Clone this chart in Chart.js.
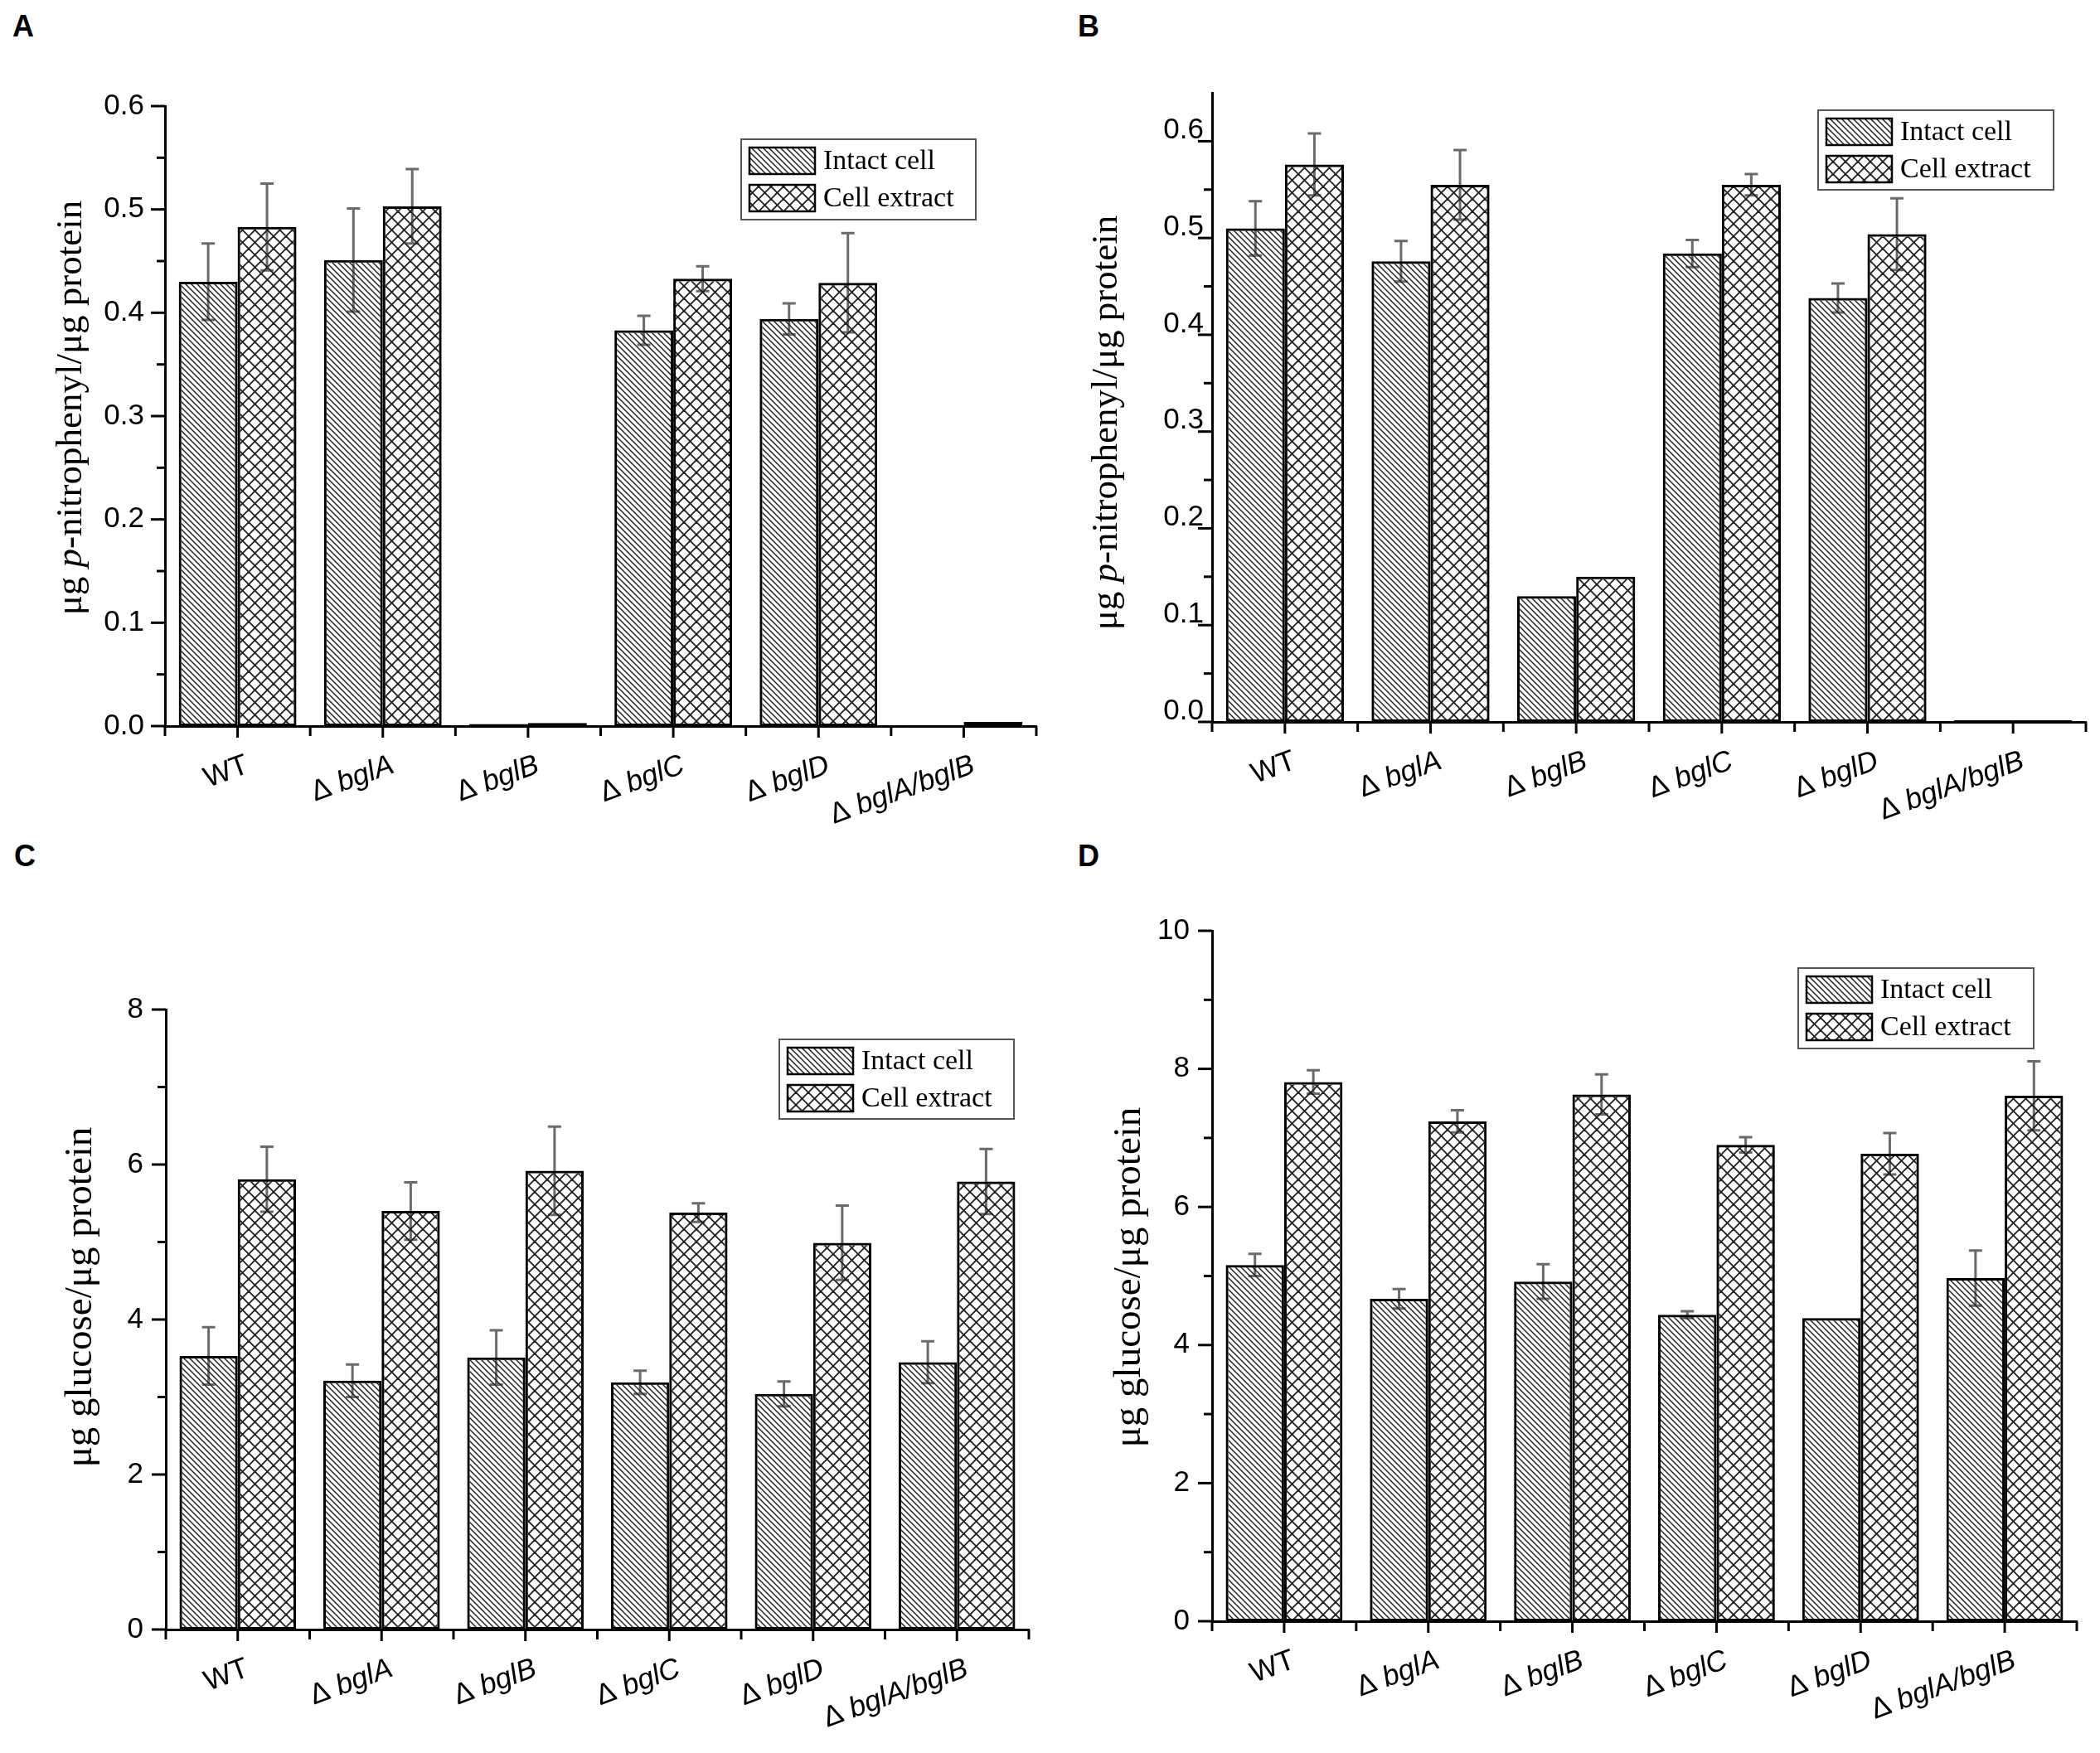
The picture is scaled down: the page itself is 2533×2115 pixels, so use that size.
<!DOCTYPE html>
<html><head><meta charset="utf-8">
<script src="https://cdn.jsdelivr.net/npm/chart.js@4.4.1/dist/chart.umd.min.js"></script>
<style>
html,body{margin:0;padding:0;background:#fff;}
#page{position:relative;width:2533px;height:2115px;background:#fff;overflow:hidden;}
canvas{position:absolute;}
.pl{position:absolute;font:bold 36px "Liberation Sans",Arial,sans-serif;color:#000;line-height:1;}
</style></head><body>
<div id="page">
<div class="pl" style="left:15px;top:14px">A</div>
<div class="pl" style="left:1300px;top:14px">B</div>
<div class="pl" style="left:17px;top:1015px">C</div>
<div class="pl" style="left:1300px;top:1015px">D</div>
<canvas id="cA" width="1266" height="1018" style="left:0px;top:0px"></canvas>
<canvas id="cB" width="1267" height="1018" style="left:1266px;top:0px"></canvas>
<canvas id="cC" width="1266" height="1097" style="left:0px;top:1018px"></canvas>
<canvas id="cD" width="1267" height="1097" style="left:1266px;top:1018px"></canvas>
</div>
<script>
// ---------------- DATA ----------------
const categories = ['WT', 'Δ bglA', 'Δ bglB', 'Δ bglC', 'Δ bglD', 'Δ bglA/bglB'];
const seriesNames = ['Intact cell', 'Cell extract'];

const aIntact     = [0.430, 0.451, 0.002, 0.383, 0.394, 0.001];
const aIntactErr  = [0.037, 0.050, 0,     0.014, 0.015, 0];
const aExtract    = [0.483, 0.503, 0.003, 0.433, 0.429, 0.004];
const aExtractErr = [0.042, 0.036, 0,     0.012, 0.048, 0];
const aTicks      = [0, 0.1, 0.2, 0.3, 0.4, 0.5, 0.6];

const bIntact     = [0.510, 0.476, 0.130, 0.484, 0.438, 0.002];
const bIntactErr  = [0.028, 0.021, 0,     0.014, 0.015, 0];
const bExtract    = [0.576, 0.555, 0.150, 0.555, 0.504, 0.002];
const bExtractErr = [0.032, 0.036, 0,     0.011, 0.037, 0];
const bTicks      = [0, 0.1, 0.2, 0.3, 0.4, 0.5, 0.6];

const cIntact     = [3.53, 3.21, 3.51, 3.19, 3.04, 3.45];
const cIntactErr  = [0.37, 0.21, 0.35, 0.15, 0.16, 0.27];
const cExtract    = [5.81, 5.40, 5.92, 5.38, 4.99, 5.78];
const cExtractErr = [0.42, 0.37, 0.57, 0.12, 0.48, 0.42];
const cTicks      = [0, 2, 4, 6, 8];

const dIntact     = [5.16, 4.67, 4.92, 4.44, 4.39, 4.97];
const dIntactErr  = [0.16, 0.14, 0.25, 0.05, 0,    0.40];
const dExtract    = [7.81, 7.24, 7.63, 6.90, 6.77, 7.61];
const dExtractErr = [0.17, 0.16, 0.29, 0.11, 0.30, 0.50];
const dTicks      = [0, 2, 4, 6, 8, 10];

const titleNitro   = [['μg ', false], ['p', true], ['-nitrophenyl/μg protein', false]];
const titleGlucose = [['μg glucose/μg protein', false]];

// ---------------- STYLE HELPERS ----------------
const SANS = '"Liberation Sans", Arial, sans-serif';
const SERIF = '"Liberation Serif", "Times New Roman", serif';

function makePattern(kind) {
  const p = kind === 'diag' ? 7 : 15;
  const c = document.createElement('canvas');
  c.width = p; c.height = p;
  const g = c.getContext('2d');
  g.strokeStyle = '#222';
  g.lineWidth = kind === 'diag' ? 1.5 : 1.9;
  const line = (x1, y1, x2, y2) => { g.beginPath(); g.moveTo(x1, y1); g.lineTo(x2, y2); g.stroke(); };
  // '\' direction lines
  line(-2, -2, p + 2, p + 2); line(-2, p - 2, 2, p + 2); line(p - 2, -2, p + 2, 2);
  if (kind === 'cross') {
    line(-2, p + 2, p + 2, -2); line(-2, 2, 2, -2); line(p - 2, p + 2, p + 2, p - 2);
  }
  return g.createPattern(c, 'repeat');
}

const decor = {
  id: 'decor',
  beforeDatasetsDraw(chart) {
    const ctx = chart.ctx, ys = chart.scales.y;
    ctx.save();
    ctx.strokeStyle = '#6a6a6a';
    ctx.lineWidth = 3;
    chart.data.datasets.forEach((ds, di) => {
      const meta = chart.getDatasetMeta(di);
      meta.data.forEach((bar, i) => {
        const e = ds.errors[i];
        if (!e) return;
        const v = ds.data[i];
        const yt = ys.getPixelForValue(v + e), yb = ys.getPixelForValue(v - e);
        const x = bar.x;
        ctx.beginPath();
        ctx.moveTo(x, yt); ctx.lineTo(x, yb);
        ctx.moveTo(x - 8, yt); ctx.lineTo(x + 8, yt);
        ctx.moveTo(x - 8, yb); ctx.lineTo(x + 8, yb);
        ctx.stroke();
      });
    });
    ctx.restore();
  },
  afterDraw(chart) {
    const o = chart.options.plugins.decor;
    const ctx = chart.ctx, xs = chart.scales.x, ys = chart.scales.y;
    const area = chart.chartArea;
    ctx.save();
    ctx.strokeStyle = '#000';
    ctx.lineWidth = 3;
    // y ticks (major + minor)
    const tv = o.ticks;
    for (let k = 0; k < tv.length; k++) {
      const y = ys.getPixelForValue(tv[k]);
      ctx.beginPath(); ctx.moveTo(area.left - 17, y); ctx.lineTo(area.left, y); ctx.stroke();
      if (k < tv.length - 1) {
        const ym = ys.getPixelForValue((tv[k] + tv[k + 1]) / 2);
        ctx.beginPath(); ctx.moveTo(area.left - 10, ym); ctx.lineTo(area.left, ym); ctx.stroke();
      }
    }
    // x ticks: boundaries + centers
    const n = categories.length;
    const cw = (xs.right - xs.left) / n;
    for (let k = 0; k <= n; k++) {
      const x = xs.left + k * cw;
      ctx.beginPath(); ctx.moveTo(x, area.bottom); ctx.lineTo(x, area.bottom + 12); ctx.stroke();
    }
    for (let i = 0; i < n; i++) {
      const x = xs.getPixelForValue(i);
      ctx.beginPath(); ctx.moveTo(x, area.bottom); ctx.lineTo(x, area.bottom + 14); ctx.stroke();
    }
    // x labels (rotated, italic gene names)
    ctx.fillStyle = '#000';
    ctx.textBaseline = 'top';
    const fUp = '35px ' + SANS, fIt = 'italic 35px ' + SANS;
    categories.forEach((lab, i) => {
      const parts = lab.startsWith('Δ ') ? [['Δ ', fUp], [lab.slice(2), fIt]] : [[lab, fUp]];
      let tot = 0;
      parts.forEach(p => { ctx.font = p[1]; tot += ctx.measureText(p[0]).width; });
      ctx.save();
      ctx.translate(xs.getPixelForValue(i) + o.labelDx, area.bottom + o.labelDy);
      ctx.rotate(-20 * Math.PI / 180);
      let x = -tot;
      ctx.textAlign = 'left';
      parts.forEach(p => { ctx.font = p[1]; ctx.fillText(p[0], x, 0); x += ctx.measureText(p[0]).width; });
      ctx.restore();
    });
    // y title
    {
      const fs = o.titleSize;
      let tot = 0;
      o.title.forEach(p => { ctx.font = (p[1] ? 'italic ' : '') + fs + 'px ' + SERIF; tot += ctx.measureText(p[0]).width; });
      ctx.save();
      ctx.translate(o.titleX, o.titleY);
      ctx.rotate(-Math.PI / 2);
      ctx.textBaseline = 'middle';
      ctx.textAlign = 'left';
      let x = -tot / 2;
      o.title.forEach(p => { ctx.font = (p[1] ? 'italic ' : '') + fs + 'px ' + SERIF; ctx.fillText(p[0], x, 0); x += ctx.measureText(p[0]).width; });
      ctx.restore();
    }
    // legend
    {
      const L = o.legend;
      ctx.lineWidth = 2;
      ctx.strokeStyle = '#555';
      ctx.fillStyle = '#fff';
      ctx.beginPath(); ctx.rect(L.x, L.y, L.w, L.h); ctx.fill(); ctx.stroke();
      chart.data.datasets.forEach((ds, di) => {
        const sy = L.y + 10 + di * 45;
        ctx.fillStyle = ds.backgroundColor;
        ctx.fillRect(L.x + 10, sy, 79, 32);
        ctx.lineWidth = 2.5; ctx.strokeStyle = '#000';
        ctx.strokeRect(L.x + 10, sy, 79, 32);
        ctx.fillStyle = '#000';
        ctx.font = '34px ' + SERIF;
        ctx.textBaseline = 'middle';
        ctx.textAlign = 'left';
        ctx.fillText(ds.label, L.x + 99, sy + 17);
      });
    }
    ctx.restore();
  }
};

function makeChart(p) {
  const ctx = document.getElementById(p.id).getContext('2d');
  const diag = makePattern('diag'), cross = makePattern('cross');
  return new Chart(ctx, {
    type: 'bar',
    data: {
      labels: categories,
      datasets: [
        { label: seriesNames[0], data: p.intact, errors: p.intactErr, backgroundColor: diag,
          borderColor: '#000', borderWidth: 3, borderSkipped: false, categoryPercentage: 0.81, barPercentage: 1 },
        { label: seriesNames[1], data: p.extract, errors: p.extractErr, backgroundColor: cross,
          borderColor: '#000', borderWidth: 3, borderSkipped: false, categoryPercentage: 0.81, barPercentage: 1 }
      ]
    },
    options: {
      responsive: false, animation: false, devicePixelRatio: 1,
      layout: { padding: { top: p.area.t, right: p.w - p.area.r, left: 0, bottom: 0 } },
      plugins: {
        legend: { display: false }, tooltip: { enabled: false },
        decor: { ticks: p.ticks, legend: p.legend, title: p.title, titleX: p.titleX, titleY: p.titleY,
                 titleSize: p.titleSize, labelDx: 6, labelDy: 30 }
      },
      scales: {
        x: { type: 'category', offset: true, grid: { display: false, drawTicks: false },
             border: { display: true, width: 3, color: '#000' }, ticks: { display: false },
             afterFit: s => { s.height = p.h - p.area.b; } },
        y: { type: 'linear', min: 0, max: p.max, grid: { display: false, drawTicks: false },
             border: { display: true, width: 3, color: '#000' },
             ticks: { color: '#000', font: { family: SANS, size: 35 }, padding: p.tickPad,
                      labelOffset: p.labelOffset, callback: v => p.fmt(v) },
             afterBuildTicks: s => { s.ticks = p.ticks.map(v => ({ value: v })); },
             afterFit: s => { s.width = p.area.l; } }
      }
    },
    plugins: [decor]
  });
}

const f1 = v => v.toFixed(1), f0 = v => String(Math.round(v));
const panels = [
  { id: 'cA', w: 1266, h: 1018, area: { l: 199, t: 128, r: 1250, b: 876 }, max: 0.6, ticks: aTicks, fmt: f1,
    tickPad: 25, labelOffset: 0, intact: aIntact, intactErr: aIntactErr, extract: aExtract, extractErr: aExtractErr,
    legend: { x: 894, y: 168, w: 283, h: 97 }, title: titleNitro, titleX: 86, titleY: 492, titleSize: 45 },
  { id: 'cB', w: 1267, h: 1018, area: { l: 196, t: 112, r: 1250, b: 871 }, max: 0.65, ticks: bTicks, fmt: f1,
    tickPad: 10, labelOffset: -13, intact: bIntact, intactErr: bIntactErr, extract: bExtract, extractErr: bExtractErr,
    legend: { x: 927, y: 133, w: 284, h: 96 }, title: titleNitro, titleX: 69, titleY: 510, titleSize: 45 },
  { id: 'cC', w: 1266, h: 1097, area: { l: 200, t: 200, r: 1241, b: 948 }, max: 8, ticks: cTicks, fmt: f0,
    tickPad: 27, labelOffset: 0, intact: cIntact, intactErr: cIntactErr, extract: cExtract, extractErr: cExtractErr,
    legend: { x: 940, y: 236, w: 283, h: 96 }, title: titleGlucose, titleX: 98, titleY: 547, titleSize: 47 },
  { id: 'cD', w: 1267, h: 1097, area: { l: 196, t: 105, r: 1239, b: 938 }, max: 10, ticks: dTicks, fmt: f0,
    tickPad: 27, labelOffset: 0, intact: dIntact, intactErr: dIntactErr, extract: dExtract, extractErr: dExtractErr,
    legend: { x: 903, y: 150, w: 284, h: 97 }, title: titleGlucose, titleX: 97, titleY: 523, titleSize: 47 }
];
panels.forEach(makeChart);
</script>
</body></html>
